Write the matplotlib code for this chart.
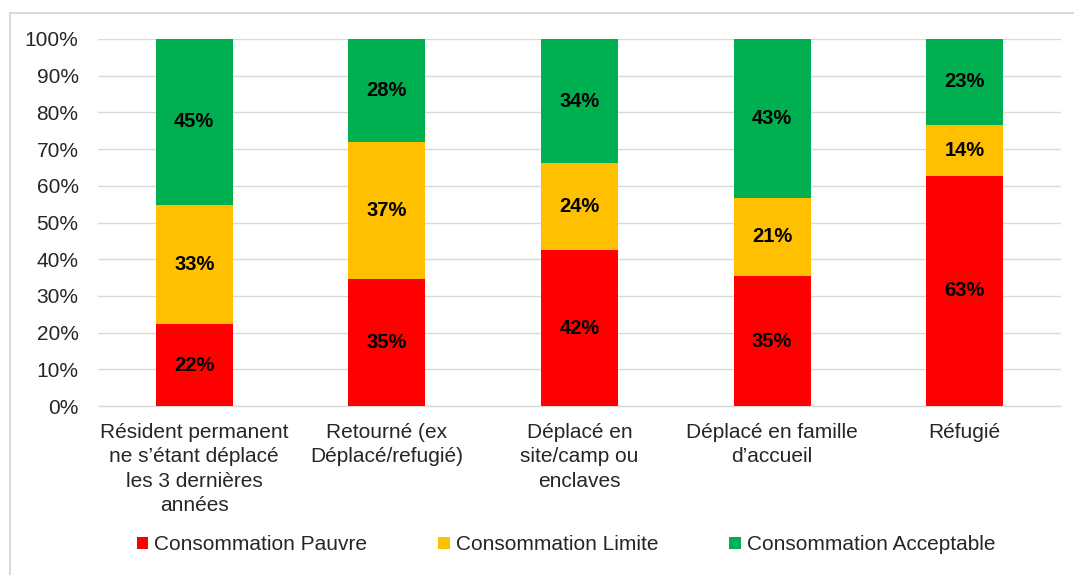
import matplotlib
matplotlib.use("Agg")
import matplotlib.pyplot as plt
from matplotlib.patches import Rectangle
import numpy as np

plt.rcParams['font.family'] = ['Liberation Sans', 'DejaVu Sans']

categories = [
    "Résident permanent\nne s’étant déplacé\nles 3 dernières\nannées",
    "Retourné (ex\nDéplacé/refugié)",
    "Déplacé en\nsite/camp ou\nenclaves",
    "Déplacé en famille\nd’accueil",
    "Réfugié",
]
pauvre = [22.3, 34.6, 42.5, 35.4, 62.7]
limite = [32.6, 37.3, 23.7, 21.4, 13.9]
acceptable = [45.1, 28.1, 33.8, 43.2, 23.4]
series_names = ["Consommation Pauvre", "Consommation Limite", "Consommation Acceptable"]
colors = ["#FF0000", "#FFC000", "#00B050"]
yticks = [0, 10, 20, 30, 40, 50, 60, 70, 80, 90, 100]

FS = 15
TXT = '#262626'

fig = plt.figure(figsize=(10.74, 5.75), dpi=100)
ax = fig.add_axes([98/1074, 1-406/575, (1061-98)/1074, (406-39)/575])

x = np.arange(len(categories))
bottom = np.zeros(len(categories))
handles = []
for vals, col, name in zip([pauvre, limite, acceptable], colors, series_names):
    b = ax.bar(x, vals, bottom=bottom, width=0.4, color=col, label=name, zorder=3)
    handles.append(b)
    for xi, v, bt in zip(x, vals, bottom):
        ax.text(xi, bt + v/2, f"{v:.0f}%", ha='center', va='center',
                fontsize=14.5, fontweight='bold', color='black', zorder=4)
    bottom = bottom + np.array(vals)

ax.set_xlim(-0.5, len(categories)-0.5)
ax.set_ylim(0, 100)
ax.set_yticks(yticks)
ax.set_yticklabels([f"{t}%" for t in yticks], fontsize=FS, color=TXT)
ax.set_xticks(x)
ax.set_xticklabels(categories, fontsize=FS, color=TXT, linespacing=1.34)
ax.tick_params(axis='both', length=0)
ax.tick_params(axis='y', pad=14)
ax.tick_params(axis='x', pad=12.5)
ax.yaxis.grid(True, color='#D9D9D9', linewidth=1.0, zorder=0)
for s in ['top', 'right', 'left']:
    ax.spines[s].set_visible(False)
ax.spines['bottom'].set_color('#D9D9D9')
ax.spines['bottom'].set_linewidth(1.0)

fig.legend(handles=handles, labels=series_names, loc='center', ncol=3,
           bbox_to_anchor=(566/1074, 1-545/575), frameon=False, fontsize=FS,
           handlelength=0.55, handleheight=0.55, handletextpad=0.3, columnspacing=3.4,
           labelcolor=TXT)

fig.patches.append(Rectangle((10/1074, -0.1), 1.2, 1.1 - 13/575, transform=fig.transFigure,
                             fill=False, edgecolor='#D9D9D9', linewidth=1.5, zorder=0))

fig.savefig("out.png", dpi=100)
